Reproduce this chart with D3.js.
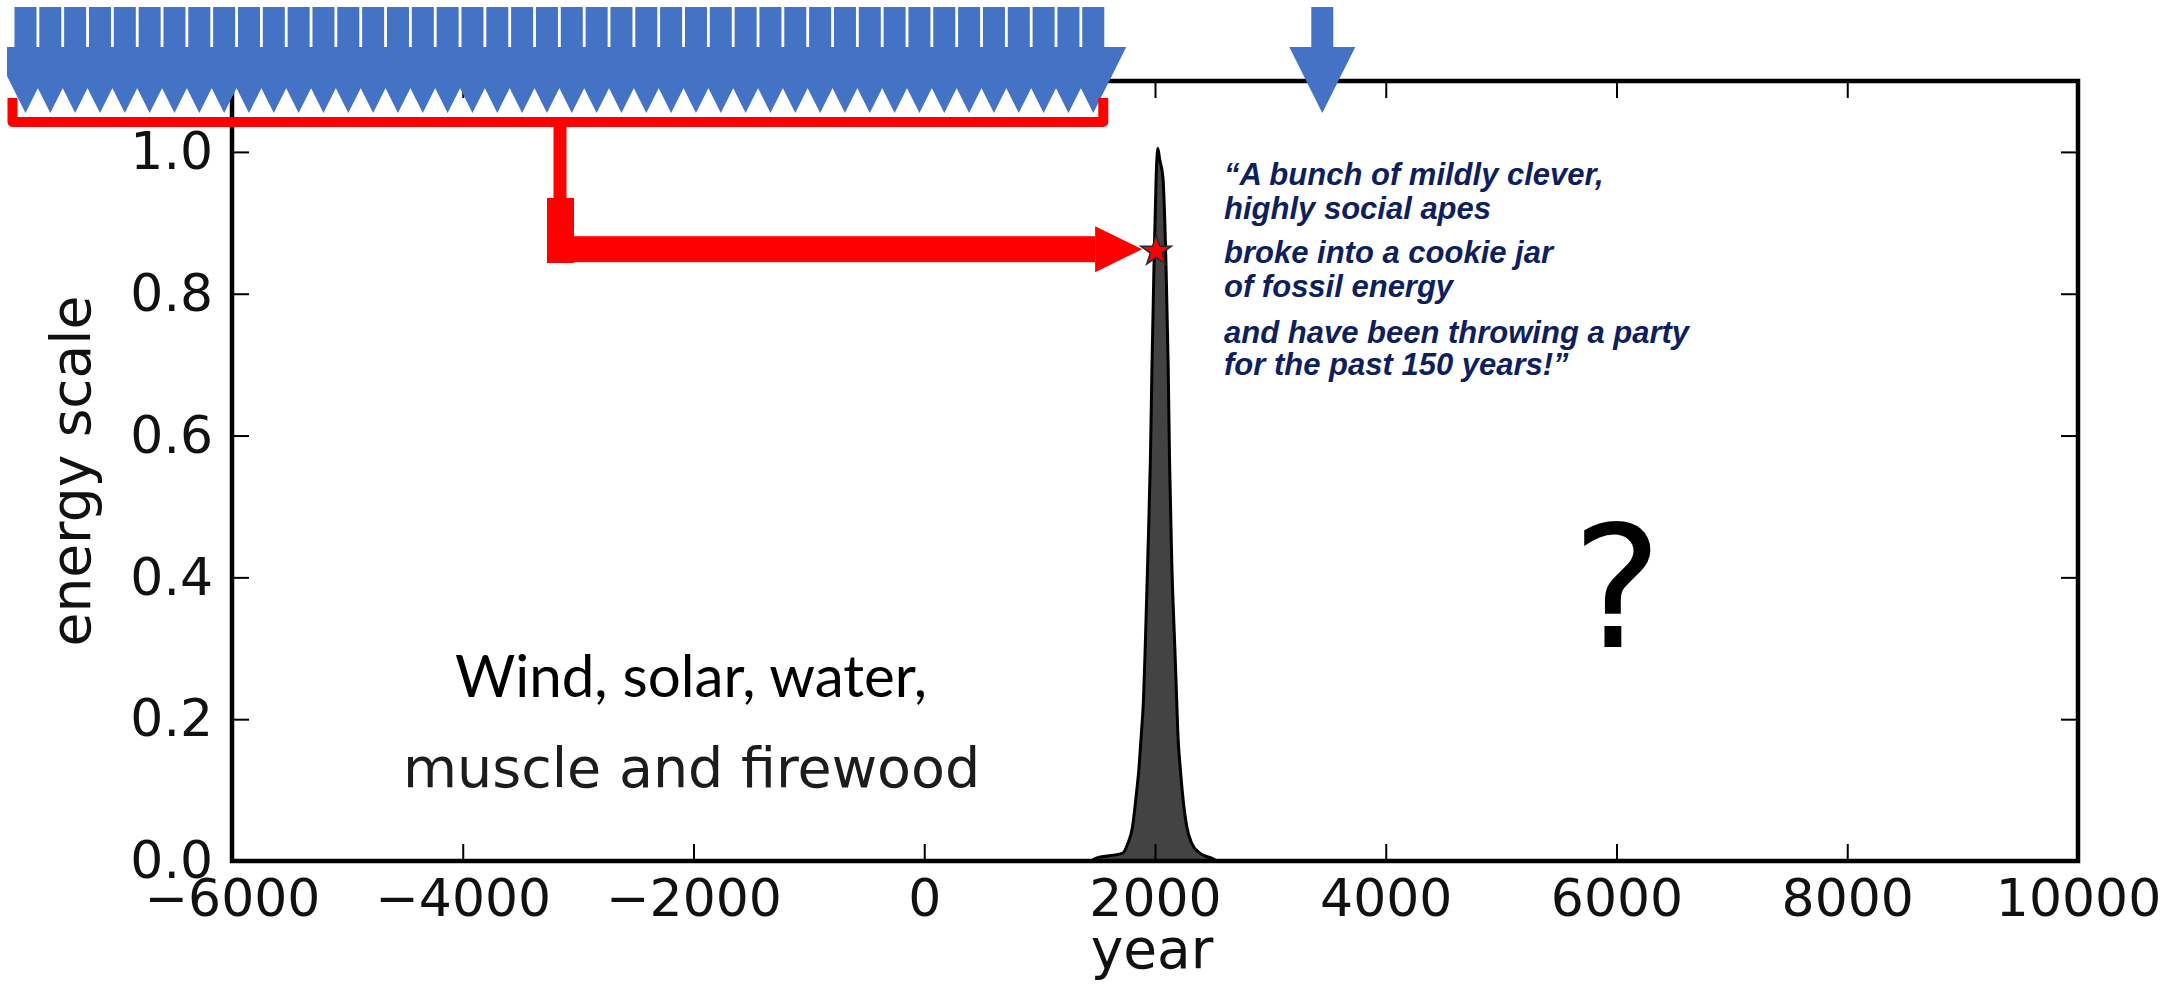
<!DOCTYPE html>
<html><head><meta charset="utf-8">
<script src="https://cdn.jsdelivr.net/npm/d3@7"></script>
<style>html,body{margin:0;padding:0;background:#fff;overflow:hidden}</style>
</head><body>
<svg id="chart" width="2181" height="984"></svg>
<script>
// ---------------- data ----------------
const years  = [1450, 1490, 1720, 1765, 1805, 1833, 1862, 1882, 1900, 1915, 1938, 1960, 1974, 1990, 2010, 2024,
                2040, 2068, 2097, 2114, 2126, 2144, 2172, 2188, 2198, 2218, 2244, 2276, 2318, 2388, 2490, 2540];
const energy = [0, 0.004, 0.011, 0.025, 0.048, 0.086, 0.133, 0.18, 0.227, 0.30, 0.43, 0.566, 0.70, 0.83, 0.965, 1.005,
                0.99, 0.965, 0.83, 0.70, 0.566, 0.43, 0.30, 0.227, 0.18, 0.133, 0.086, 0.048, 0.025, 0.011, 0.004, 0];
const xTicks = [-6000, -4000, -2000, 0, 2000, 4000, 6000, 8000, 10000];
const yTicks = [0, 0.2, 0.4, 0.6, 0.8, 1.0];
const xDomain = [-6000, 10000];
const yDomain = [0, 1.1];
const nowYear = 2010, nowEnergy = 0.86;
const quoteLines = ["\u201CA bunch of mildly clever,", "highly social apes", "broke into a cookie jar",
                    "of fossil energy", "and have been throwing a party", "for the past 150 years!\u201D"];
const pastLabel1 = "Wind, solar, water,";
const pastLabel2 = "muscle and firewood";
const futureLabel = "?";
const xTitle = "year", yTitle = "energy scale";
const historyArrowCount = 44;
const historyArrowFirstYear = -7790, historyArrowLastYear = 1465;
const futureArrowYear = 3450;

// ---------------- layout ----------------
const W = 2181, H = 984;
const svg = d3.select("#chart");
const x = d3.scaleLinear().domain(xDomain).range([232, 2078]);
const y = d3.scaleLinear().domain(yDomain).range([861, 81]);
const tickFont = "'DejaVu Sans', sans-serif";

svg.append("rect").attr("width", W).attr("height", H).attr("fill", "#fff");

svg.append("defs").append("clipPath").attr("id", "plotclip")
  .append("rect").attr("x", x.range()[0]).attr("y", y.range()[1])
  .attr("width", x.range()[1] - x.range()[0]).attr("height", y.range()[0] - y.range()[1]);

// area
const pts = years.map((d, i) => ({year: d, v: energy[i]}));
const area = d3.area().x(d => x(d.year)).y0(y(0)).y1(d => y(d.v)).curve(d3.curveMonotoneX);
svg.append("path").datum(pts).attr("clip-path", "url(#plotclip)")
  .attr("d", area).attr("fill", "#434343").attr("stroke", "#000").attr("stroke-width", 3)
  .attr("stroke-linejoin", "round");

// axes
function styleAxis(g, fs) {
  g.select(".domain").remove();
  g.selectAll(".tick line").attr("stroke", "#000").attr("stroke-width", 2);
  g.selectAll(".tick text").attr("font-family", tickFont).attr("font-size", fs).attr("fill", "#111");
}
const fmtX = d3.format("d");
svg.append("g").attr("transform", `translate(0,${y(0)})`)
  .call(d3.axisBottom(x).tickValues(xTicks).tickFormat(d => fmtX(d).replace("-", "\u2212"))
        .tickSizeInner(-17).tickSizeOuter(0).tickPadding(18))
  .call(g => styleAxis(g, 52));
svg.append("g").attr("transform", `translate(0,${y(yDomain[1])})`)
  .call(d3.axisTop(x).tickValues(xTicks).tickFormat("").tickSizeInner(-17).tickSizeOuter(0))
  .call(g => styleAxis(g, 52));
svg.append("g").attr("transform", `translate(${x(xDomain[0])},0)`)
  .call(d3.axisLeft(y).tickValues(yTicks).tickFormat(d3.format(".1f"))
        .tickSizeInner(-17).tickSizeOuter(0).tickPadding(19))
  .call(g => styleAxis(g, 52));
svg.append("g").attr("transform", `translate(${x(xDomain[1])},0)`)
  .call(d3.axisRight(y).tickValues(yTicks).tickFormat("").tickSizeInner(-17).tickSizeOuter(0))
  .call(g => styleAxis(g, 52));

// frame
svg.append("rect").attr("x", x(xDomain[0])).attr("y", y(yDomain[1]))
  .attr("width", x(xDomain[1]) - x(xDomain[0])).attr("height", y(0) - y(yDomain[1]))
  .attr("fill", "none").attr("stroke", "#000").attr("stroke-width", 4.5);

// axis titles
svg.append("text").attr("x", (x(1000) + x(3000)) / 2 - 3).attr("y", 968)
  .attr("text-anchor", "middle").attr("font-family", tickFont).attr("font-size", 55).attr("fill", "#111")
  .text(xTitle);
svg.append("text").attr("transform", `translate(90,${y(0.55)}) rotate(-90)`)
  .attr("text-anchor", "middle").attr("font-family", tickFont).attr("font-size", 55).attr("fill", "#111")
  .text(yTitle);

// in-plot labels
const t1 = svg.append("text").attr("x", 455).attr("y", 697)
  .attr("font-family", "Lato, 'Open Sans', sans-serif").attr("font-size", 60).attr("fill", "#000")
  .text(pastLabel1);
const w1 = t1.node().getComputedTextLength();
t1.attr("font-size", 60 * 472 / w1);

svg.append("text").attr("x", 403).attr("y", 787)
  .attr("font-family", tickFont).attr("font-size", 55.5).attr("fill", "#1c1c1c")
  .text(pastLabel2);

svg.append("text").attr("x", 1617).attr("y", 647).attr("text-anchor", "middle")
  .attr("font-family", tickFont).attr("font-size", 170).attr("fill", "#000")
  .text(futureLabel);

// quote
const quoteBaselines = [185, 219, 263, 297, 343, 375];
svg.append("g").selectAll("text").data(quoteLines).join("text")
  .attr("x", 1224).attr("y", (d, i) => quoteBaselines[i])
  .attr("font-family", "'Liberation Sans', Arial, sans-serif").attr("font-weight", "bold")
  .attr("font-style", "italic").attr("font-size", 31).attr("fill", "#0F1F5E")
  .text(d => d);

// blue arrows (history + future)
const blue = "#4472C4";
function arrowPts(tx) {
  return [[tx-11,7],[tx+11,7],[tx+11,47],[tx+33,47],[tx,113],[tx-33,47],[tx-11,47]];
}
svg.select("defs").append("clipPath").attr("id", "arrowclip")
  .append("rect").attr("x", 7).attr("y", 0).attr("width", W).attr("height", H);
const histYears = d3.range(historyArrowCount).map(i =>
  historyArrowFirstYear + i * (historyArrowLastYear - historyArrowFirstYear) / (historyArrowCount - 1));
svg.append("g").attr("clip-path", "url(#arrowclip)").selectAll("polygon").data(histYears).join("polygon")
  .attr("points", d => arrowPts(x(d)).map(p => p.join(",")).join(" "))
  .attr("fill", blue);
svg.append("polygon").attr("points", arrowPts(x(futureArrowYear)).map(p => p.join(",")).join(" "))
  .attr("fill", blue);

// red bracket + arrow to the star
const red = "#FF0000";
const bL = x(historyArrowFirstYear) - 13, bR = x(historyArrowLastYear) + 10;
svg.append("path").attr("d", `M${bL},98 L${bL},122 L${bR},122 L${bR},98`)
  .attr("fill", "none").attr("stroke", red).attr("stroke-width", 10).attr("stroke-linejoin", "round");
const stemX = 560;
svg.append("rect").attr("x", stemX - 6.5).attr("y", 120).attr("width", 13).attr("height", 80).attr("fill", red);
svg.append("rect").attr("x", stemX - 13).attr("y", 198).attr("width", 27).attr("height", 65).attr("fill", red);
const tipX = x(nowYear) - 14, tipY = y(nowEnergy) - 2;
svg.append("rect").attr("x", stemX - 13).attr("y", tipY - 13).attr("width", tipX - 47 - (stemX - 13))
  .attr("height", 26).attr("fill", red);
svg.append("polygon")
  .attr("points", [[tipX - 47, tipY - 23], [tipX, tipY], [tipX - 47, tipY + 23]].map(p => p.join(",")).join(" "))
  .attr("fill", red);

// star
svg.append("path").attr("transform", `translate(${x(nowYear)},${y(nowEnergy)})`)
  .attr("d", d3.symbol(d3.symbolStar, 16 * 16 / 0.8908)())
  .attr("fill", red).attr("stroke", "#2a2a2a").attr("stroke-width", 1.5);
</script>
</body></html>
